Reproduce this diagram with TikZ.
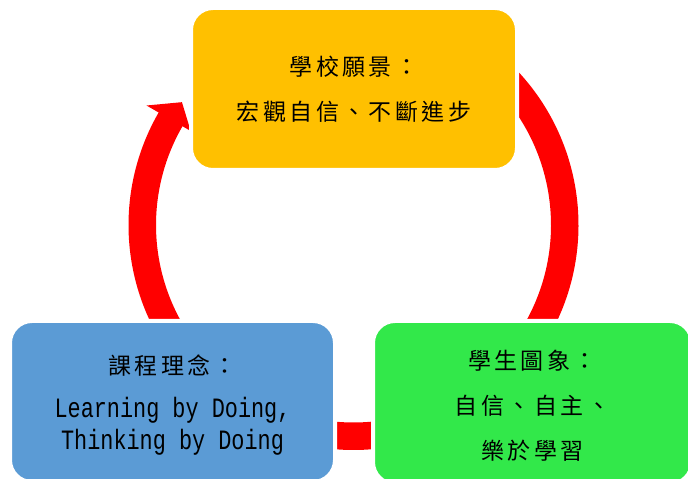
\documentclass[tikz,border=0pt]{standalone}
\usepackage{fontspec}
\newfontfamily\zhfont[LetterSpace=15]{Noto Sans CJK TC}
\newfontfamily\codefont[FakeStretch=0.78]{Liberation Mono}
\usetikzlibrary{positioning}
\definecolor{c1}{HTML}{FFC000}
\definecolor{c2}{HTML}{5B9BD5}
\definecolor{c3}{HTML}{32E84A}
\definecolor{ringcolor}{HTML}{FF0000}

\begin{document}
\begin{tikzpicture}[x=1pt, y=1pt,
    every node/.style={font=\zhfont\fontsize{23}{45}\selectfont, text=black},
    card/.style={draw=white, line width=4pt, rounded corners=22pt, inner sep=0pt, align=center},
    ring/.style={draw=ringcolor, line width=27.5pt},
]
\useasboundingbox (0,0) rectangle (688,479);
\coordinate (hub) at (353.5,254);

% ---------------- red ring, in three pieces
\draw[ring] ([shift={(212:211.25pt)}]hub) arc[start angle=212, end angle=149.6, radius=211.25pt];
\fill[ringcolor, shift={(hub)}] (150:188pt) -- (144.4:211pt) -- (150:239pt) -- cycle;
\draw[ring] ([shift={(50:211.25pt)}]hub) arc[start angle=50, end angle=-35, radius=211.25pt];
\draw[ring] ([shift={(-78:211.25pt)}]hub) arc[start angle=-78, end angle=-102, radius=211.25pt];

% ---------------- the three cards
\node[card, fill=c1, minimum width=326pt, minimum height=162pt] (vision) at (354,390)
    {學校願景：\\宏觀自信、不斷進步};
\node[card, fill=c2, minimum width=325pt, minimum height=161pt] (curriculum) at (172.5,77.5)
    {\rule{0pt}{30pt}課程理念：\\[-2pt]{\codefont\fontsize{28}{32}\selectfont
     \begin{tabular}[t]{@{}c@{}}Learning by Doing,\\Thinking by Doing\end{tabular}}};
\node[card, fill=c3, minimum width=319pt, minimum height=163pt] (portrait) at (532.5,76.5)
    {\rule{0pt}{25pt}學生圖象：\\自信、自主、\\樂於學習};
\end{tikzpicture}
\end{document}
